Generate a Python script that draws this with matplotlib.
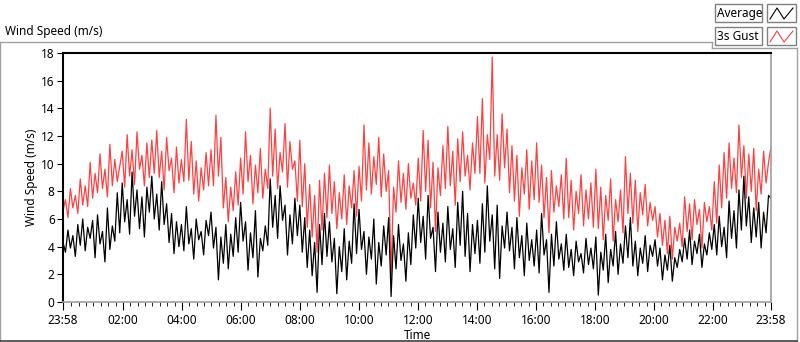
import numpy as np
import matplotlib.pyplot as plt
from matplotlib.lines import Line2D
from matplotlib.patches import Rectangle

# 3 s gust, 12 readings per hour from 23:58 to 23:58 (m/s)
gust = [
    6.6, 7.4, 6.1, 8.2, 6.8, 7.7, 6.4, 8.9, 7.0, 8.4, 6.9, 10.1,
    7.5, 9.3, 7.9, 10.7, 8.2, 9.6, 7.6, 11.4, 8.4, 10.3, 8.7, 9.8,
    10.9, 8.3, 12.1, 9.1, 11.0, 8.5, 12.3, 9.6, 10.6, 8.4, 11.5, 9.0,
    11.7, 9.3, 12.4, 9.0, 10.9, 8.1, 11.9, 9.5, 10.4, 7.9, 11.2, 8.6,
    10.3, 8.7, 13.2, 8.8, 11.6, 7.8, 10.2, 7.3, 9.7, 8.1, 10.8, 8.4,
    11.0, 8.4, 13.5, 9.1, 11.9, 6.8, 9.0, 5.8, 8.3, 6.6, 9.4, 7.0,
    10.4, 7.8, 12.3, 8.7, 10.6, 7.1, 9.9, 7.9, 11.1, 7.5, 9.6, 8.2,
    14.0, 9.1, 12.5, 8.2, 10.8, 9.4, 12.9, 8.3, 11.6, 9.6, 10.2, 7.3,
    11.7, 6.9, 10.0, 5.4, 8.5, 4.7, 7.7, 3.6, 8.8, 5.2, 9.3, 6.1,
    9.9, 6.4, 8.7, 5.3, 7.9, 6.0, 9.2, 5.6, 8.4, 6.8, 9.5, 6.2,
    9.8, 7.3, 12.8, 8.1, 11.5, 7.8, 10.5, 8.5, 11.9, 7.6, 10.7, 8.0,
    9.5, 1.9, 8.3, 6.5, 10.2, 7.2, 9.3, 6.7, 10.0, 7.5, 8.6, 7.0,
    10.4, 7.3, 12.4, 8.0, 11.7, 6.8, 10.1, 5.1, 9.7, 7.7, 11.3, 8.2,
    12.7, 8.4, 10.9, 7.0, 11.8, 8.7, 12.3, 9.1, 10.6, 8.1, 11.5, 9.3,
    13.4, 9.3, 14.7, 8.6, 12.1, 10.3, 17.7, 9.1, 12.1, 8.8, 13.6, 9.7,
    12.5, 7.9, 11.3, 7.3, 10.6, 6.2, 9.7, 7.8, 11.0, 6.7, 10.2, 7.4,
    11.5, 7.2, 9.9, 6.1, 9.0, 5.0, 9.5, 6.5, 8.4, 6.9, 9.2, 6.0,
    10.4, 6.1, 8.8, 5.2, 8.0, 6.4, 9.2, 5.5, 8.1, 6.0, 8.6, 5.4,
    9.6, 5.3, 8.3, 4.5, 7.7, 5.9, 8.9, 4.4, 7.4, 5.8, 8.1, 5.0,
    10.5, 6.4, 9.3, 5.7, 8.8, 5.1, 7.9, 6.3, 8.5, 5.5, 7.2, 5.9,
    6.9, 4.7, 6.4, 4.1, 5.9, 3.5, 6.2, 3.1, 5.4, 4.4, 5.7, 4.0,
    7.6, 5.1, 7.1, 4.5, 7.4, 5.6, 6.7, 3.9, 7.2, 5.8, 6.9, 5.2,
    8.7, 5.7, 9.9, 6.8, 10.8, 7.5, 11.5, 8.2, 10.4, 7.9, 12.8, 9.0,
    11.3, 7.5, 10.7, 8.0, 11.1, 6.6, 9.6, 7.8, 10.9, 8.6, 10.1, 11.2,
]

# average wind speed, same sampling (m/s)
average = [
    4.3, 3.6, 5.2, 3.9, 4.8, 3.3, 5.6, 4.1, 6.0, 3.7, 5.4, 4.6,
    5.9, 3.2, 6.3, 4.2, 5.1, 2.9, 6.8, 3.8, 5.5, 4.4, 7.9, 5.0,
    8.6, 5.8, 7.4, 4.9, 9.4, 6.2, 8.1, 5.3, 7.6, 4.7, 8.3, 6.5,
    9.1, 6.0, 7.8, 5.2, 8.7, 5.6, 7.1, 4.3, 6.4, 3.5, 5.8, 4.0,
    5.6, 3.7, 6.9, 4.2, 5.3, 3.1, 6.0, 4.5, 5.1, 3.4, 5.9, 4.8,
    6.5, 3.9, 5.4, 1.6, 4.7, 2.8, 5.6, 2.4, 4.9, 3.3, 6.1, 3.6,
    7.2, 4.4, 5.8, 2.3, 5.0, 3.2, 6.6, 1.8, 4.6, 3.7, 5.5, 4.1,
    8.9, 5.4, 7.7, 4.6, 8.4, 5.9, 7.0, 3.4, 6.3, 4.2, 7.5, 4.8,
    7.0, 3.6, 6.1, 2.5, 5.2, 1.9, 4.3, 0.7, 5.6, 2.7, 6.4, 3.3,
    5.8, 2.9, 4.6, 0.6, 4.0, 2.2, 5.3, 1.6, 4.4, 2.8, 7.1, 3.5,
    6.7, 3.8, 5.1, 2.0, 4.7, 3.1, 6.0, 1.3, 4.3, 2.6, 5.5, 3.4,
    6.1, 0.4, 4.8, 2.4, 5.6, 3.0, 4.2, 1.5, 5.0, 2.7, 6.3, 3.9,
    7.5, 4.3, 6.2, 3.1, 7.7, 4.6, 5.4, 2.2, 6.5, 3.6, 5.7, 2.9,
    6.9, 3.8, 5.3, 2.5, 7.2, 4.1, 8.0, 3.3, 6.4, 2.2, 5.6, 3.5,
    5.9, 2.8, 7.1, 3.6, 8.4, 4.4, 6.3, 2.4, 7.0, 1.7, 5.5, 3.9,
    6.5, 3.7, 5.4, 2.4, 6.1, 3.2, 4.8, 1.9, 5.7, 3.0, 4.5, 2.6,
    5.2, 2.1, 6.4, 3.4, 4.5, 0.7, 4.9, 2.6, 5.8, 3.1, 4.2, 2.3,
    4.9, 2.5, 3.8, 1.9, 4.4, 2.9, 3.5, 2.1, 4.6, 2.7, 3.9, 2.4,
    4.7, 0.5, 3.6, 2.3, 4.9, 1.4, 3.8, 2.6, 5.1, 2.0, 4.2, 2.8,
    5.5, 3.2, 6.1, 2.6, 4.4, 1.9, 3.9, 2.8, 4.8, 2.2, 4.1, 3.3,
    4.5, 2.6, 3.9, 1.6, 3.4, 2.3, 4.1, 1.5, 3.2, 2.5, 3.8, 2.9,
    4.6, 3.1, 5.2, 2.7, 4.4, 3.5, 4.9, 2.5, 4.2, 3.4, 5.0, 3.8,
    5.6, 3.4, 6.2, 4.0, 5.4, 3.2, 7.3, 4.6, 6.6, 3.9, 8.1, 5.2,
    9.1, 5.5, 7.6, 4.3, 6.8, 4.7, 7.2, 3.9, 6.5, 5.0, 7.7, 7.5,
]

# minutes after 23:58 for the labelled time ticks
tick_minutes = [0, 122, 242, 362, 482, 602, 722, 842, 962, 1082, 1202, 1322, 1440]
tick_labels = ['23:58', '02:00', '04:00', '06:00', '08:00', '10:00', '12:00',
               '14:00', '16:00', '18:00', '20:00', '22:00', '23:58']

W, H = 800, 342
FONT = 'Noto Sans'
plt.rcParams['font.family'] = [FONT, 'DejaVu Sans']


def fx(x):
    return x / W


def fy(y):
    return 1 - y / H


fig = plt.figure(figsize=(W / 100, H / 100), dpi=100)
ax = fig.add_axes([fx(63), fy(302), (771 - 63) / W, (302 - 53) / H])

t = np.linspace(0, 1440, len(gust))
ax.plot(t, gust, color='#ff4040', lw=0.9)
ax.plot(t, average, color='black', lw=0.9)

ax.set_xlim(0, 1440)
ax.set_ylim(0, 18)
ax.set_yticks(range(0, 19, 2))
ax.set_xticks(tick_minutes)
ax.set_xticklabels(tick_labels)
ax.set_xticks(np.arange(17, 1440, 15), minor=True)
ax.tick_params(axis='both', labelsize=8.5, direction='out', color='black')
ax.tick_params(axis='x', which='major', length=6, pad=3)
ax.tick_params(axis='x', which='minor', length=3)
ax.tick_params(axis='y', length=4, pad=2)
ax.set_xlabel('Time', fontsize=8.5, labelpad=1)
ax.set_ylabel('Wind Speed (m/s)', fontsize=8.5, labelpad=2)

for side in ('top', 'left'):
    ax.spines[side].set_color('black')
    ax.spines[side].set_linewidth(1.5)
for side in ('bottom', 'right'):
    ax.spines[side].set_color('#a0a0a0')
    ax.spines[side].set_linewidth(1.2)

# panel caption and outer frame
fig.text(fx(5), fy(32), 'Wind Speed (m/s)', fontsize=8.5, va='center', ha='left')
frame = [((0, 42), (712, 42)), ((712, 42), (712, 48)), ((712, 48), (797, 48)),
         ((797, 48), (797, 341)), ((0, 42), (0, 341))]
for (x0, y0), (x1, y1) in frame:
    fig.add_artist(Line2D([fx(x0), fx(x1)], [fy(y0), fy(y1)], color='#a0a0a0', lw=1))
fig.add_artist(Line2D([fx(0), fx(797)], [fy(341), fy(341)], color='#404040', lw=1.2))

# legend boxes
for name, colour, y_top in [('Average', 'black', 4), ('3s Gust', '#ff4040', 27)]:
    fig.add_artist(Rectangle((fx(715), fy(y_top + 18)), 47 / W, 18 / H,
                             facecolor='white', edgecolor='#808080', lw=1))
    fig.add_artist(Rectangle((fx(767), fy(y_top + 18)), 29 / W, 18 / H,
                             facecolor='white', edgecolor='#808080', lw=1))
    fig.text(fx(717), fy(y_top + 9), name, fontsize=8.5, va='center', ha='left')
    icon_x = [770, 777, 784, 793]
    icon_y = [y_top + 15, y_top + 4, y_top + 15, y_top + 4]
    fig.add_artist(Line2D([fx(v) for v in icon_x], [fy(v) for v in icon_y],
                          color=colour, lw=0.8))

fig.savefig('out.png', dpi=100)
